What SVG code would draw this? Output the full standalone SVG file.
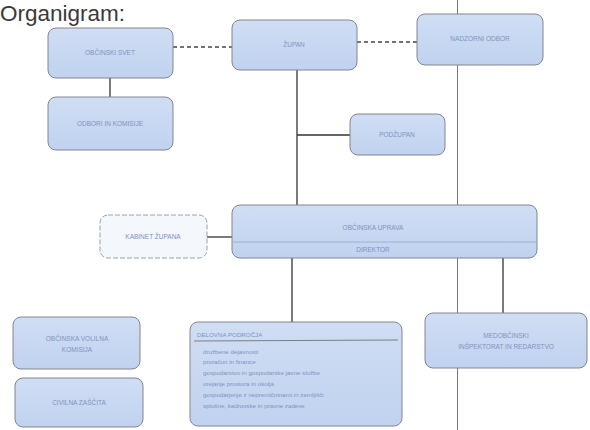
<svg xmlns="http://www.w3.org/2000/svg" width="590" height="430" viewBox="0 0 590 430">
<defs>
<linearGradient id="g" x1="0" y1="0" x2="0" y2="1">
<stop offset="0" stop-color="#d0def4"/>
<stop offset="1" stop-color="#c0d2ef"/>
</linearGradient>
<style>
.box{fill:url(#g);stroke:#80868f;stroke-width:1;}
.lite{fill:#f4f7fc;stroke:#9aa1ab;stroke-width:1;stroke-dasharray:5 2;}
.t{font-family:"Liberation Sans",Arial,sans-serif;font-size:6.5px;fill:#7f93bf;text-anchor:middle;}
.l{font-family:"Liberation Sans",Arial,sans-serif;font-size:6.2px;fill:#7f93bf;}
.c{stroke:#333;stroke-width:1.3;fill:none;}
.d{stroke:#444;stroke-width:1.3;fill:none;stroke-dasharray:4 3;}
</style>
</defs>
<rect width="590" height="430" fill="#fff"/>
<text x="0" y="21" font-family="Liberation Sans,Arial,sans-serif" font-size="22.5" fill="#3a3a3a">Organigram:</text>
<line x1="457.5" y1="0" x2="457.5" y2="430" stroke="#555" stroke-width="0.8"/>
<g id="connectors">
<line class="d" x1="173" y1="47" x2="232" y2="47"/>
<line class="d" x1="357" y1="42" x2="417" y2="42"/>
<line class="c" x1="110" y1="78" x2="110" y2="97"/>
<line class="c" x1="297" y1="70" x2="297" y2="205"/>
<line class="c" x1="297" y1="135" x2="350" y2="135"/>
<line class="c" x1="207" y1="237" x2="232" y2="237"/>
<line class="c" x1="292" y1="258" x2="292" y2="322"/>
<line class="c" x1="503" y1="258" x2="503" y2="313"/>
</g>
<g id="obcinski-svet">
<rect class="box" x="48" y="28" width="125" height="50" rx="8"/>
<text class="t" x="110" y="55">OBČINSKI SVET</text>
</g>
<g id="zupan">
<rect class="box" x="232" y="20" width="125" height="50" rx="8"/>
<text class="t" x="294" y="47">ŽUPAN</text>
</g>
<g id="nadzorni-odbor">
<rect class="box" x="417" y="14" width="126" height="51" rx="8"/>
<text class="t" x="480" y="41">NADZORNI ODBOR</text>
</g>
<g id="odbori">
<rect class="box" x="48" y="97" width="125" height="53" rx="8"/>
<text class="t" x="110" y="126">ODBORI IN KOMISIJE</text>
</g>
<g id="podzupan">
<rect class="box" x="350" y="114" width="95" height="41" rx="8"/>
<text class="t" x="397" y="137">PODŽUPAN</text>
</g>
<g id="kabinet">
<rect class="lite" x="100" y="215" width="107" height="43" rx="8"/>
<text class="t" x="153" y="239">KABINET ŽUPANA</text>
</g>
<g id="uprava">
<rect class="box" x="232" y="205" width="305" height="53" rx="8"/>
<line x1="232" y1="242" x2="537" y2="242" stroke="#9fb0cc" stroke-width="1.2"/>
<text class="t" x="373" y="230">OBČINSKA UPRAVA</text>
<text class="t" x="373" y="252">DIREKTOR</text>
</g>
<g id="delovna-podrocja">
<rect class="box" x="190" y="322" width="212" height="104" rx="8"/>
<text class="l" x="197" y="337">DELOVNA PODROČJA</text>
<line x1="194" y1="341" x2="398" y2="340" stroke="#666" stroke-width="0.8"/>
<text class="l" x="203" y="354">družbene dejavnosti</text>
<text class="l" x="203" y="364">proračun in finance</text>
<text class="l" x="203" y="375">gospodarstvo in gospodarske javne službe</text>
<text class="l" x="203" y="386">urejanje prostora in okolja</text>
<text class="l" x="203" y="397">gospodarjenje z nepremičninami in zemljišči</text>
<text class="l" x="203" y="408">splošne, kadrovske in pravne zadeve</text>
</g>
<g id="medobcinski">
<rect class="box" x="425" y="313" width="162" height="55" rx="8"/>
<text class="t" x="506" y="338">MEDOBČINSKI</text>
<text class="t" x="506" y="349">INŠPEKTORAT IN REDARSTVO</text>
</g>
<g id="volilna-komisija">
<rect class="box" x="13" y="317" width="127" height="52" rx="8"/>
<text class="t" x="77" y="341">OBČINSKA VOLILNA</text>
<text class="t" x="77" y="352">KOMISIJA</text>
</g>
<g id="civilna-zascita">
<rect class="box" x="15" y="378" width="128" height="49" rx="8"/>
<text class="t" x="79" y="405">CIVILNA ZAŠČITA</text>
</g>
</svg>
